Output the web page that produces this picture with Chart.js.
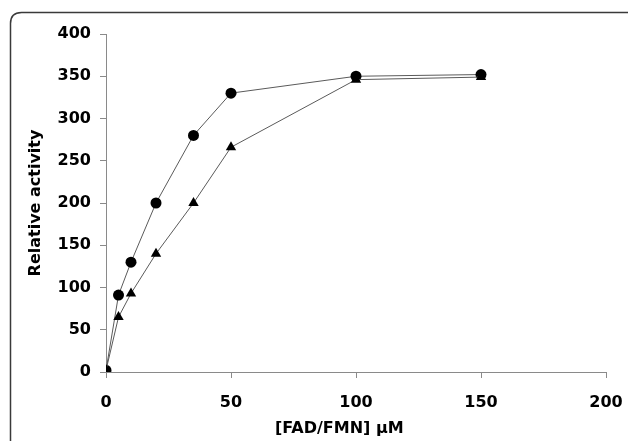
<!DOCTYPE html>
<html>
<head>
<meta charset="utf-8">
<script src="https://cdn.jsdelivr.net/npm/chart.js@4.4.1/dist/chart.umd.min.js"></script>
<style>
  html, body { margin: 0; padding: 0; background: #fff; }
  #wrap { width: 628px; height: 441px; position: relative; }
</style>
</head>
<body>
<div id="wrap"><canvas id="chart"></canvas></div>
<script>
// concentration of FAD/FMN (uM)
const concentrations = [0, 5, 10, 20, 35, 50, 100, 150];
const circleSeries = [2, 91, 130, 200, 280, 330, 350, 352];
const triangleSeries = [2, 65, 93, 140, 200, 266, 346, 349];
const xTicks = [0, 50, 100, 150, 200];
const yTicks = [0, 50, 100, 150, 200, 250, 300, 350, 400];

const FONT = 'DejaVu Sans';
const AXIS_GRAY = '#8a8a8a';

function toPoints(xs, ys) {
  return xs.map((x, i) => ({ x, y: ys[i] }));
}

// rounded frame around the figure, runs off the right/bottom edge
const framePlugin = {
  id: 'frame',
  beforeDraw(chart) {
    const ctx = chart.ctx;
    const x = 10.5, y = 12.5, w = 660, h = 480, r = 11;
    ctx.save();
    ctx.strokeStyle = '#3a3a3a';
    ctx.lineWidth = 1.5;
    ctx.beginPath();
    ctx.moveTo(x + w, y);
    ctx.lineTo(x + r, y);
    ctx.quadraticCurveTo(x, y, x, y + r);
    ctx.lineTo(x, y + h);
    ctx.stroke();
    ctx.restore();
  },
};

const seriesStyle = {
  showLine: true,
  borderColor: '#5a5a5a',
  borderWidth: 1,
  pointBackgroundColor: '#000',
  pointBorderColor: '#000',
  pointBorderWidth: 0,
  pointRadius: 5.5,
  pointHoverRadius: 5.5,
  tension: 0,
};

new Chart(document.getElementById('chart'), {
  type: 'scatter',
  data: {
    datasets: [
      { ...seriesStyle, label: 'triangle', data: toPoints(concentrations, triangleSeries), pointStyle: 'triangle', pointRadius: 6 },
      { ...seriesStyle, label: 'circle', data: toPoints(concentrations, circleSeries), pointStyle: 'circle' },
    ],
  },
  options: {
    responsive: true,
    maintainAspectRatio: false,
    animation: false,
    layout: { padding: { top: 34, right: 22, left: 0, bottom: 0 } },
    plugins: {
      legend: { display: false },
      tooltip: { enabled: false },
    },
    scales: {
      x: {
        type: 'linear',
        min: 0,
        max: 200,
        afterBuildTicks: (s) => { s.ticks = xTicks.map(v => ({ value: v })); },
        afterFit: (s) => { s.height = 69; s.paddingLeft = 0; s.paddingRight = 0; },
        grid: { drawOnChartArea: false, drawTicks: true, tickLength: 6, color: AXIS_GRAY },
        border: { color: AXIS_GRAY, width: 1 },
        ticks: { color: '#000', font: { family: FONT, weight: 'bold', size: 16 }, padding: 15, maxRotation: 0 },
        title: {
          display: true,
          // trailing spaces nudge the title a little left of the axis centre
          text: '[FAD/FMN] \u03bcM\u00a0\u00a0\u00a0\u00a0\u00a0\u00a0',
          color: '#000',
          font: { family: FONT, weight: 'bold', size: 16 },
          padding: { top: 0, bottom: 3 },
        },
      },
      y: {
        type: 'linear',
        min: 0,
        max: 400,
        afterBuildTicks: (s) => { s.ticks = yTicks.map(v => ({ value: v })); },
        afterFit: (s) => { s.width = 106; s.paddingTop = 0; s.paddingBottom = 0; },
        grid: { drawOnChartArea: false, drawTicks: true, tickLength: 6, color: AXIS_GRAY },
        border: { color: AXIS_GRAY, width: 1 },
        ticks: { color: '#000', font: { family: FONT, weight: 'bold', size: 16 }, padding: 9 },
        title: {
          display: true,
          text: 'Relative activity',
          color: '#000',
          font: { family: FONT, weight: 'bold', size: 16 },
          padding: { top: 26, bottom: 0 },
        },
      },
    },
  },
  plugins: [framePlugin],
});
</script>
</body>
</html>
